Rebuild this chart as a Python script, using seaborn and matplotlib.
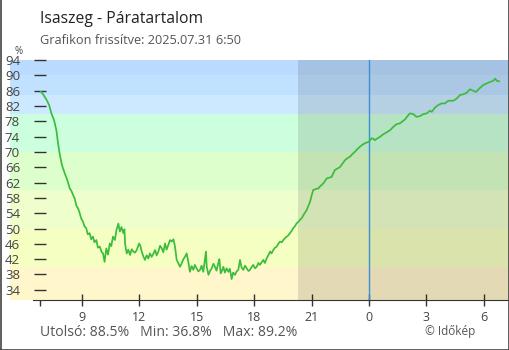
"""
Isaszeg humidity chart (Időkép style) - 24h relative humidity trace
"""

import matplotlib
matplotlib.use("Agg")
import matplotlib.pyplot as plt
from matplotlib.lines import Line2D
import seaborn as sns

# ─────────────────────────────────────────────
# Data (hours since 00:00 on day 1, humidity %)
# ─────────────────────────────────────────────
hours = [
    6.84, 6.95, 7.05, 7.15, 7.28, 7.40, 7.54, 7.66, 7.75, 7.83, 7.95, 8.10, 8.23, 8.36,
    8.45, 8.53, 8.62, 8.70, 8.80, 8.88, 8.96, 9.05, 9.13, 9.22, 9.30, 9.40, 9.48, 9.57,
    9.65, 9.75, 9.83, 9.93, 10.02, 10.10, 10.18, 10.27, 10.36, 10.45, 10.53, 10.62, 10.72,
    10.80, 10.90, 10.98, 11.06, 11.16, 11.22, 11.25, 11.30, 11.34, 11.42, 11.51, 11.60,
    11.68, 11.77, 11.86, 11.92, 11.98, 12.05, 12.12, 12.20, 12.29, 12.38, 12.47, 12.55,
    12.64, 12.72, 12.82, 12.90, 12.99, 13.08, 13.17, 13.25, 13.34, 13.42, 13.51, 13.60,
    13.69, 13.78, 13.86, 13.95, 14.03, 14.12, 14.21, 14.30, 14.38, 14.47, 14.55, 14.64,
    14.73, 14.82, 14.90, 14.99, 15.08, 15.17, 15.25, 15.34, 15.43, 15.48, 15.52, 15.61,
    15.70, 15.78, 15.87, 15.95, 16.03, 16.12, 16.18, 16.25, 16.32, 16.39, 16.47, 16.56,
    16.65, 16.73, 16.82, 16.90, 17.00, 17.08, 17.17, 17.26, 17.34, 17.43, 17.52, 17.61,
    17.70, 17.78, 17.87, 17.95, 18.04, 18.13, 18.22, 18.30, 18.39, 18.48, 18.56, 18.65,
    18.74, 18.83, 18.91, 19.00, 19.09, 19.18, 19.26, 19.35, 19.44, 19.52, 19.61, 19.70,
    19.78, 19.87, 19.96, 20.04, 20.13, 20.22, 20.30, 20.36, 20.48, 20.61, 20.74, 20.83,
    20.92, 21.00, 21.09, 21.22, 21.35, 21.48, 21.61, 21.70, 21.79, 21.92, 22.05, 22.13,
    22.22, 22.35, 22.49, 22.62, 22.75, 22.88, 23.01, 23.14, 23.27, 23.40, 23.53, 23.66,
    23.79, 23.90, 24.00, 24.14, 24.22, 24.31, 24.45, 24.58, 24.71, 24.84, 24.97, 25.10,
    25.20, 25.32, 25.45, 25.62, 25.75, 25.88, 25.97, 26.05, 26.14, 26.32, 26.49, 26.67,
    26.84, 27.02, 27.19, 27.28, 27.45, 27.62, 27.80, 27.97, 28.15, 28.41, 28.59, 28.76,
    28.93, 29.11, 29.28, 29.46, 29.59, 29.77, 29.97, 30.15, 30.32, 30.49, 30.60, 30.68,
    30.81,
]
humidity = [
    85.8, 85.2, 84.4, 83.6, 82.3, 80.1, 78.3, 75.7, 72.2, 69.6, 66.6, 64.4, 62.7, 60.5,
    59.8, 58.8, 57.8, 56.1, 55.2, 54.0, 52.6, 51.8, 50.6, 50.1, 48.5, 48.8, 47.2, 47.9,
    46.4, 47.0, 45.0, 45.3, 43.9, 43.5, 41.3, 44.8, 43.2, 46.1, 45.4, 47.9, 47.0,
    49.6, 51.3, 49.2, 50.4, 48.8, 49.8, 46.1, 44.5, 43.5, 44.5, 43.1, 44.6,
    44.0, 43.7, 44.4, 45.2, 46.1, 45.5, 44.0, 42.8, 41.8, 43.0, 42.2, 43.5,
    42.6, 43.3, 44.4, 43.0, 44.0, 45.5, 44.8, 43.8, 46.1, 44.5, 45.7, 47.0,
    46.6, 47.2, 45.3, 41.8, 41.0, 40.0, 40.9, 42.0, 42.6, 43.5, 41.5, 38.7,
    40.2, 39.2, 40.5, 39.6, 38.8, 39.2, 40.3, 38.7, 42.2, 44.0, 40.0, 37.9,
    39.0, 39.6, 40.8, 40.0, 39.0, 40.9, 42.0, 38.3, 39.0, 40.0, 38.5, 39.6,
    38.7, 39.5, 36.8, 38.5, 37.9, 38.8, 39.2, 41.8, 39.8, 39.2, 40.3, 39.6,
    38.9, 39.2, 40.0, 40.5, 39.6, 40.0, 41.0, 40.5, 41.2, 41.8, 41.0, 42.2,
    43.0, 44.0, 43.5, 44.4, 45.0, 45.3, 46.0, 46.6, 46.4, 47.0, 47.5, 47.9,
    48.2, 48.8, 49.4, 50.1, 50.6, 51.4, 51.7, 52.1, 52.7, 53.8, 54.8, 55.9,
    57.0, 58.6, 60.1, 60.3, 60.5, 61.2, 61.8, 62.4, 63.1, 63.3, 63.5, 64.4,
    65.3, 65.7, 66.1, 67.0, 67.9, 68.4, 68.8, 69.5, 70.1, 70.8, 71.4, 71.9,
    72.3, 72.5, 72.7, 73.6, 73.5, 73.1, 73.6, 74.0, 74.5, 74.9, 75.3, 75.7,
    76.2, 76.8, 77.3, 77.5, 78.0, 78.5, 79.1, 79.6, 80.1, 79.9, 79.2, 79.4,
    79.9, 80.1, 80.8, 80.5, 81.6, 82.3, 82.7, 82.7, 83.4, 83.4, 84.0, 84.9,
    85.1, 85.5, 86.4, 86.0, 85.7, 86.6, 87.5, 87.9, 88.3, 88.6, 89.2, 88.6,
    88.5,
]

# humidity bands (lower, upper, colour)
band_edges = [0, 40, 50, 60, 70, 80, 85, 90, 100]
band_colors = ["#fff6cc", "#f6ffc2", "#eeffcc", "#ddffcc", "#ccffdd",
               "#cce9ff", "#c0e1ff", "#badaff"]

sunset = 20.29
x_ticks = [9, 12, 15, 18, 21, 24, 27, 30]
y_ticks = list(range(34, 95, 4))

title = "Isaszeg - Páratartalom"
subtitle = "Grafikon frissítve: 2025.07.31 6:50"
footer = "Utolsó: 88.5%   Min: 36.8%   Max: 89.2%"
credit = "© Időkép"

# ─────────────────────────────────────────────
# Plot
# ─────────────────────────────────────────────
sns.set_style("ticks")
plt.rcParams["font.family"] = ["Open Sans", "DejaVu Sans"]

W, H = 510, 350
fig = plt.figure(figsize=(W / 100, H / 100), dpi=100)
ax = fig.add_axes([10 / W, 50 / H, 499 / W, 240 / H])

for lo, hi, c in zip(band_edges[:-1], band_edges[1:], band_colors):
    ax.axhspan(lo, hi, color=c, lw=0, zorder=0.5)

ax.axvspan(sunset, 40, color="black", alpha=0.11, lw=0, zorder=0.8)
ax.axvline(24, color="#3a8fd6", lw=1, zorder=1.8)

sns.lineplot(x=hours, y=humidity, ax=ax, color="#3cbc3c", lw=1.25, zorder=3)

ax.set_xlim(5.236, 31.32)
ax.set_ylim(31.33, 94.05)

# y axis: ticks centred on the first data column
ax.spines["left"].set_position(("data", 6.80))
ax.spines["left"].set_color("none")
for s in ["top", "right"]:
    ax.spines[s].set_visible(False)
ax.spines["bottom"].set_color("#333333")
ax.spines["bottom"].set_bounds(6.44, 31.32)

ax.set_yticks(y_ticks)
ax.set_yticklabels([str(v) for v in y_ticks])
ax.tick_params(axis="y", direction="inout", length=8.6, width=1, color="#333333",
               labelcolor="#444444", labelsize=9.5, pad=10)

ax.set_xticks(x_ticks)
ax.set_xticklabels([str(t % 24) for t in x_ticks])
ax.set_xticks([6.80], minor=True)
ax.tick_params(axis="x", which="major", direction="inout", length=9.2, width=1,
               color="#333333", labelcolor="#444444", labelsize=9, pad=3)
ax.tick_params(axis="x", which="minor", direction="out", length=4.3, width=1,
               color="#333333")
ax.set_xlabel("")
ax.set_ylabel("")

# texts
fig.text(40 / W, 1 - 19 / H, title, fontsize=11.3, color="#222222", va="center")
fig.text(40 / W, 1 - 40 / H, subtitle, fontsize=9.2, color="#555555", va="center")
fig.text(15 / W, 1 - 51 / H, "%", fontsize=7, color="#444444", va="center")
fig.text(40 / W, 1 - 333 / H, footer, fontsize=10.1, color="#555555", va="center")
fig.text(425 / W, 1 - 332 / H, credit, fontsize=8.5, color="#555555", va="center")

# frame around the picture
for xs, ys in [([0.5 / W, 0.5 / W], [0, 1]), ([1 - 0.5 / W, 1 - 0.5 / W], [0, 1]),
               ([0, 1], [0.5 / H, 0.5 / H])]:
    fig.add_artist(Line2D(xs, ys, color="#444444", lw=1.2))

fig.savefig("out.png", dpi=100)
plt.close()
